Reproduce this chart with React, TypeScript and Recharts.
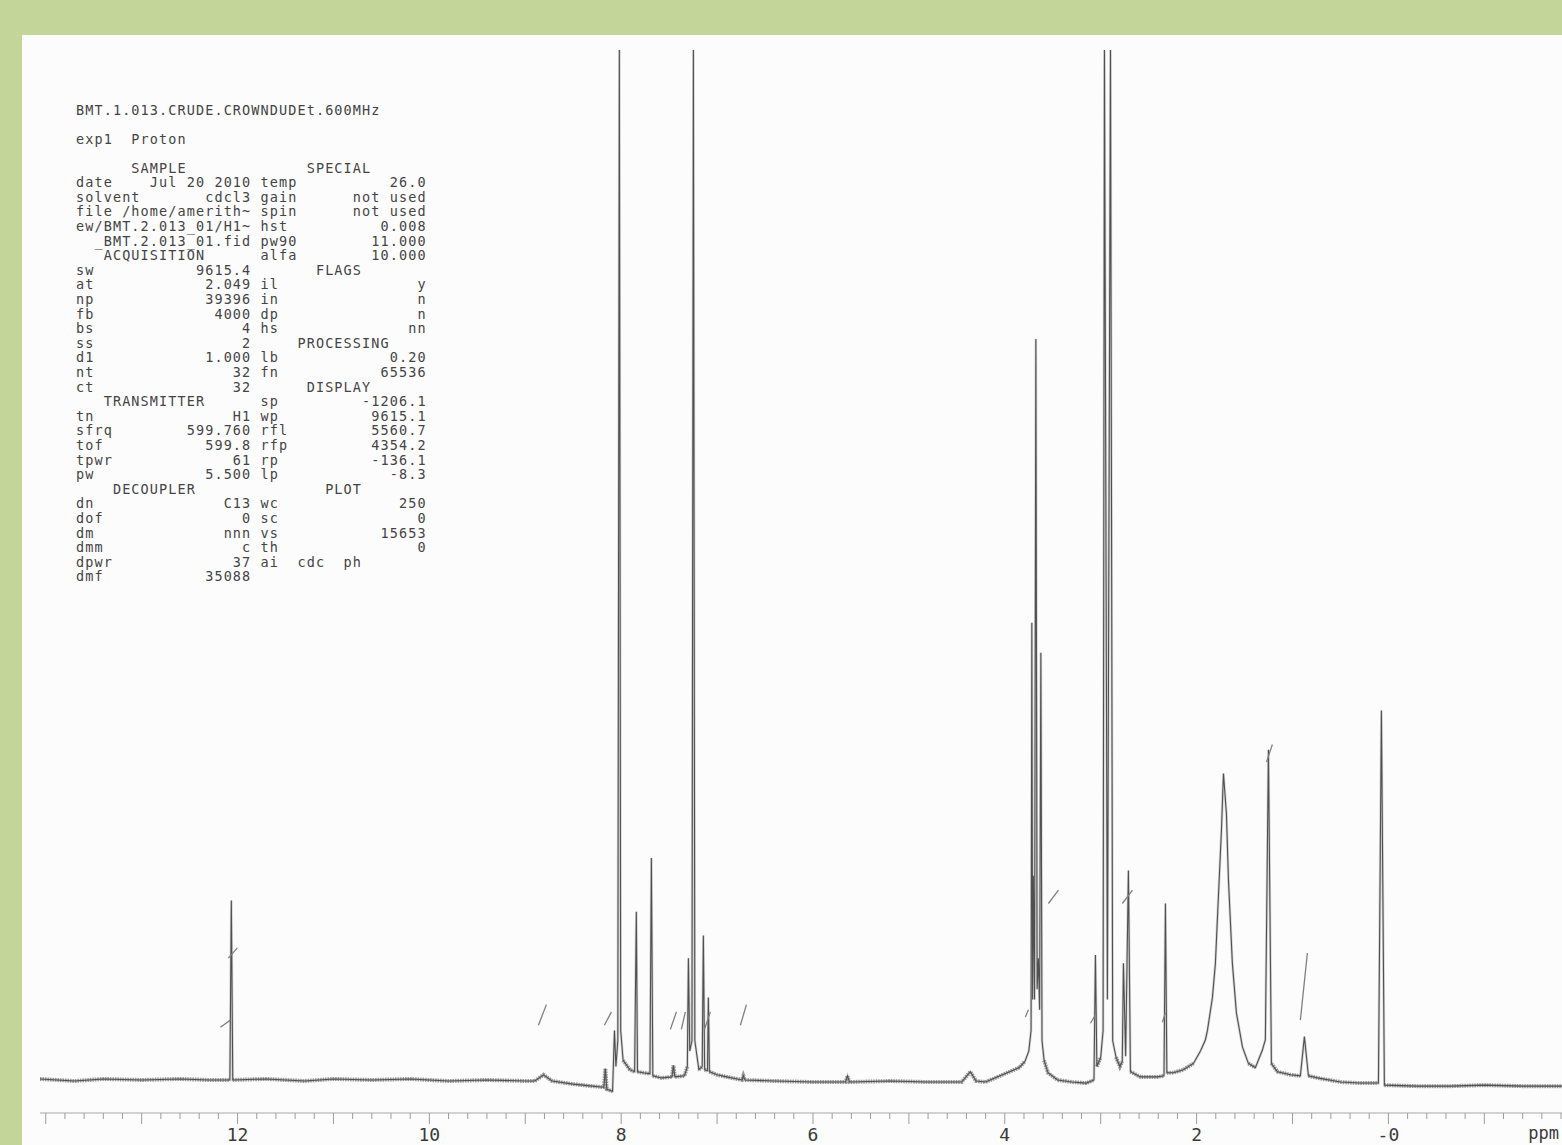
import React from 'react';
import { LineChart, Line, XAxis, YAxis, ReferenceLine } from 'recharts';

// Spectrum trace: [chemical shift (ppm), intensity (% of plot height)]
const spectrumPoints: [number, number][] = [
  [14.06, 0.3], [13.7, 0.1], [13.4, 0.3], [13.0, 0.2], [12.6, 0.3], [12.3, 0.2],
  [12.08, 0.2], [12.065, 17.6], [12.05, 0.2], [11.7, 0.3], [11.3, 0.1], [11.0, 0.3],
  [10.6, 0.2], [10.2, 0.3], [9.8, 0.1], [9.4, 0.2], [9.0, 0.1], [8.9, 0.1],
  [8.81, 0.7], [8.72, 0.1], [8.5, -0.2], [8.3, -0.4], [8.18, -0.5], [8.165, 1.3],
  [8.15, -0.7], [8.09, -0.9], [8.07, 5.0], [8.055, 1.5], [8.035, 4.0], [8.019, 100],
  [8.005, 5.0], [7.98, 2.1], [7.91, 1.2], [7.86, 1.0], [7.842, 16.5], [7.83, 1.0],
  [7.77, 0.9], [7.7, 0.8], [7.685, 21.7], [7.67, 0.6], [7.58, 0.4], [7.47, 0.5],
  [7.456, 1.6], [7.44, 0.5], [7.34, 0.6], [7.31, 1.5], [7.299, 12.0], [7.285, 3.0],
  [7.262, 4.0], [7.247, 100], [7.232, 4.0], [7.19, 1.2], [7.155, 1.5], [7.143, 14.2],
  [7.13, 1.2], [7.1, 1.1], [7.091, 8.2], [7.08, 1.0], [7.0, 0.7], [6.9, 0.5],
  [6.74, 0.2], [6.726, 0.6], [6.71, 0.2], [6.4, 0.1], [6.0, 0.0], [5.66, 0.0],
  [5.641, 0.6], [5.62, 0.0], [5.2, 0.1], [4.8, 0.0], [4.45, 0.0], [4.359, 1.0],
  [4.3, 0.1], [4.2, 0.0], [4.05, 0.6], [3.95, 1.0], [3.85, 1.4], [3.79, 2.0],
  [3.75, 3.0], [3.726, 5.0], [3.718, 44.5], [3.71, 8.0], [3.702, 20.0], [3.69, 8.0],
  [3.676, 72.0], [3.663, 9.0], [3.65, 12.0], [3.637, 7.0], [3.624, 41.6], [3.612, 4.0],
  [3.59, 2.1], [3.55, 0.9], [3.45, 0.2], [3.3, 0.0], [3.15, -0.1], [3.07, 0.2],
  [3.055, 12.3], [3.04, 1.5], [3.0, 2.4], [2.975, 5.0], [2.961, 100], [2.93, 8.0],
  [2.898, 100], [2.875, 4.0], [2.84, 2.4], [2.8, 1.5], [2.775, 2.0], [2.763, 11.5],
  [2.74, 2.5], [2.711, 20.5], [2.69, 1.0], [2.586, 0.5], [2.409, 0.5], [2.34, 0.6],
  [2.325, 17.3], [2.31, 0.9], [2.242, 0.9], [2.138, 1.2], [2.033, 1.8], [1.96, 3.0],
  [1.908, 4.1], [1.887, 5.0], [1.835, 8.2], [1.804, 11.5], [1.773, 17.9], [1.741, 24.4],
  [1.72, 29.9], [1.689, 26.0], [1.668, 19.6], [1.627, 11.5], [1.585, 6.7], [1.522, 3.4],
  [1.46, 1.8], [1.387, 1.4], [1.314, 3.1], [1.283, 4.1], [1.251, 32.2], [1.22, 1.8],
  [1.157, 1.0], [1.022, 0.7], [0.918, 0.6], [0.876, 4.4], [0.834, 0.6], [0.74, 0.4],
  [0.5, 0.0], [0.3, -0.1], [0.104, -0.1], [0.073, 36.0], [0.042, -0.3], [-0.3, -0.4],
  [-0.65, -0.4], [-1.0, -0.3], [-1.4, -0.4], [-1.81, -0.4],
];

// Integral marks drawn on the plot: [ppm start, intensity start, ppm end, intensity end]
const integralMarks: [number, number, number, number][] = [
  [12.096, 12.0, 12.002, 13.0],
  [12.179, 5.3, 12.075, 6.0],
  [8.863, 5.5, 8.78, 7.5],
  [8.175, 5.5, 8.102, 6.8],
  [7.487, 5.1, 7.424, 6.8],
  [7.372, 5.1, 7.331, 6.8],
  [7.132, 5.1, 7.07, 6.8],
  [6.757, 5.5, 6.694, 7.5],
  [3.785, 6.3, 3.754, 7.0],
  [3.545, 17.3, 3.441, 18.6],
  [3.107, 5.7, 3.055, 6.5],
  [2.774, 17.3, 2.669, 18.6],
  [2.357, 5.8, 2.325, 6.7],
  [1.272, 31.0, 1.21, 32.7],
  [0.918, 6.0, 0.845, 12.5],
];

const majorTickValues = [12, 10, 8, 6, 4, 2, 0];
const majorTickLabels = ['12', '10', '8', '6', '4', '2', '-0'];
const axisUnitLabel = 'ppm';

const titleLine = 'BMT.1.013.CRUDE.CROWNDUDEt.600MHz';
const experimentLine = 'exp1  Proton';

const parameterRows: [string, string, string, string][] = [
  ['      SAMPLE', '', '     SPECIAL', ''],
  ['date', 'Jul 20 2010', 'temp', '26.0'],
  ['solvent', 'cdcl3', 'gain', 'not used'],
  ['file /home/amerith~', '', 'spin', 'not used'],
  ['ew/BMT.2.013_01/H1~', '', 'hst', '0.008'],
  ['', '_BMT.2.013_01.fid', 'pw90', '11.000'],
  ['   ACQUISITION', '', 'alfa', '10.000'],
  ['sw', '9615.4', '      FLAGS', ''],
  ['at', '2.049', 'il', 'y'],
  ['np', '39396', 'in', 'n'],
  ['fb', '4000', 'dp', 'n'],
  ['bs', '4', 'hs', 'nn'],
  ['ss', '2', '    PROCESSING', ''],
  ['d1', '1.000', 'lb', '0.20'],
  ['nt', '32', 'fn', '65536'],
  ['ct', '32', '     DISPLAY', ''],
  ['   TRANSMITTER', '', 'sp', '-1206.1'],
  ['tn', 'H1', 'wp', '9615.1'],
  ['sfrq', '599.760', 'rfl', '5560.7'],
  ['tof', '599.8', 'rfp', '4354.2'],
  ['tpwr', '61', 'rp', '-136.1'],
  ['pw', '5.500', 'lp', '-8.3'],
  ['    DECOUPLER', '', '       PLOT', ''],
  ['dn', 'C13', 'wc', '250'],
  ['dof', '0', 'sc', '0'],
  ['dm', 'nnn', 'vs', '15653'],
  ['dmm', 'c', 'th', '0'],
  ['dpwr', '37', 'ai  cdc  ph', ''],
  ['dmf', '35088', '', ''],
];

const PPM_MIN = -1.81;
const PPM_MAX = 14.06;
const Y_MIN = -3;
const Y_MAX = 100;
const BASELINE_LIMIT = 2.6;

const chartRows = spectrumPoints.map(([ppm, intensity]) => ({
  ppm,
  intensity,
  baseline: intensity < BASELINE_LIMIT ? intensity : null,
}));

const axisTicks: number[] = [];
for (let i = -9; i <= 70; i++) axisTicks.push(Math.round(i * 2) / 10);

const padCol = (label: string, value: string, width: number) =>
  value ? label + ' '.repeat(Math.max(1, width - label.length - value.length)) + value : label.padEnd(width);

const parameterText = parameterRows
  .map(([a, b, c, d]) => padCol(a, b, 19) + ' ' + padCol(c, d, 18))
  .join('\n');

const MONO = '"DejaVu Sans Mono", "Liberation Mono", monospace';

function AxisTick(props: any) {
  const { x, y, payload } = props;
  const v = payload.value as number;
  const isInt = Math.abs(v - Math.round(v)) < 1e-6;
  const idx = isInt ? majorTickValues.indexOf(Math.round(v)) : -1;
  return (
    <g>
      <line x1={x} x2={x} y1={y} y2={y + (isInt ? 11 : 6)} stroke="#9c9c9c" strokeWidth={1} />
      {idx >= 0 && (
        <text x={x} y={y + 28} textAnchor="middle" fontFamily={MONO} fontSize={18} fill="#3a3a3a">
          {majorTickLabels[idx]}
        </text>
      )}
    </g>
  );
}

const textStyle: React.CSSProperties = {
  position: 'absolute',
  left: 76,
  fontFamily: MONO,
  fontSize: 13.5,
  letterSpacing: 1.1,
  color: '#444444',
  whiteSpace: 'pre',
};

export default function App() {
  return (
    <div
      style={{
        position: 'absolute',
        left: 0,
        top: 0,
        width: 1562,
        height: 1145,
        overflow: 'hidden',
        background: '#c4d59a',
      }}
    >
      <div style={{ position: 'absolute', left: 22, top: 35, width: 1540, height: 1110, background: '#fdfcfd' }} />
      <div style={{ position: 'absolute', left: 0, top: 0 }}>
        <LineChart width={1562} height={1145} data={chartRows} margin={{ top: 50, right: 0, left: 40, bottom: 0 }}>
          <XAxis
            dataKey="ppm"
            type="number"
            domain={[PPM_MIN, PPM_MAX]}
            reversed
            allowDataOverflow
            ticks={axisTicks}
            interval={0}
            tick={<AxisTick />}
            tickLine={false}
            tickSize={0}
            tickMargin={0}
            axisLine={{ stroke: '#a8a8a8', strokeWidth: 1 }}
            height={32}
          />
          <YAxis hide type="number" domain={[Y_MIN, Y_MAX]} allowDataOverflow />
          <Line
            dataKey="baseline"
            type="linear"
            stroke="#4a4a4a"
            strokeOpacity={0.55}
            strokeWidth={4}
            strokeDasharray="1.5 1"
            dot={false}
            connectNulls={false}
            isAnimationActive={false}
          />
          <Line
            dataKey="intensity"
            type="linear"
            stroke="#8a8a8a"
            strokeOpacity={0.35}
            strokeWidth={2.6}
            dot={false}
            isAnimationActive={false}
          />
          <Line
            dataKey="intensity"
            type="linear"
            stroke="#505050"
            strokeWidth={1.1}
            dot={false}
            isAnimationActive={false}
          />
          {integralMarks.map(([p1, i1, p2, i2], k) => (
            <ReferenceLine
              key={k}
              segment={[{ x: p1, y: i1 }, { x: p2, y: i2 }]}
              stroke="#808080"
              strokeWidth={1.3}
            />
          ))}
        </LineChart>
      </div>
      <div style={{ ...textStyle, top: 101, lineHeight: '19px' }}>{titleLine}</div>
      <div style={{ ...textStyle, top: 129.5, lineHeight: '19px' }}>{experimentLine}</div>
      <div style={{ ...textStyle, top: 160.7, lineHeight: '14.6px' }}>{parameterText}</div>
      <div
        style={{
          position: 'absolute',
          right: 3,
          top: 1122,
          fontFamily: MONO,
          fontSize: 17,
          lineHeight: '22px',
          color: '#3a3a3a',
          whiteSpace: 'pre',
        }}
      >
        {axisUnitLabel}
      </div>
    </div>
  );
}
